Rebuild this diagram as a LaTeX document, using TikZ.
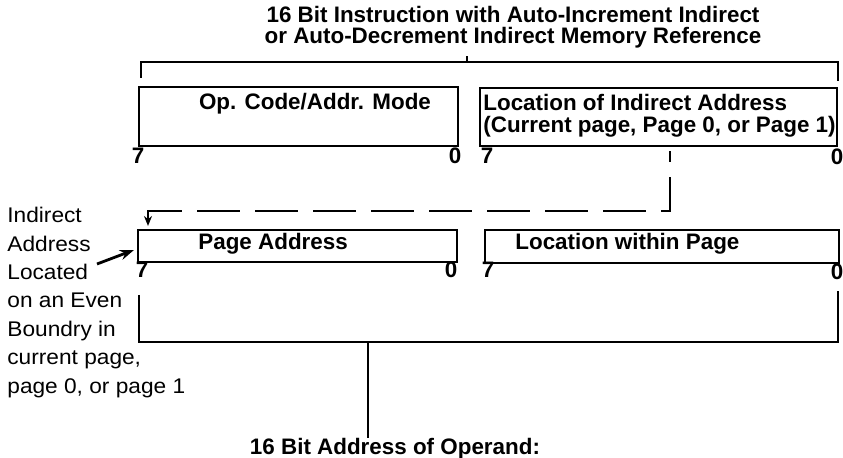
\documentclass[tikz,border=0pt]{standalone}
\usepackage{fontspec}
\setmainfont{Liberation Sans}
\newfontfamily\widefont{Liberation Sans}[FakeStretch=1.07]
\usetikzlibrary{fit,arrows.meta}
\begin{document}
\begin{tikzpicture}[x=0.5pt,y=-0.5pt,
  box/.style={draw, line width=1pt, inner sep=0pt, fit=#1},
  lbl/.style={font=\fontsize{11.2}{13}\selectfont\bfseries, inner sep=0pt, anchor=base},
  lblw/.style={lbl, anchor=base west},
  brk/.style={line width=0.8pt},
  dashline/.style={line width=1pt, dash pattern=on 21.5pt off 7.5pt},
]
\useasboundingbox (0,0) rectangle (843,458);

% title
\node[lbl] (t1) at (513,23) {16 Bit Instruction with Auto-Increment Indirect};
\node[lbl] (t2) at (513,44) {or Auto-Decrement Indirect Memory Reference};

% top bracket
\coordinate (tbL) at (141,78);
\coordinate (tbM) at (467,62);
\coordinate (tbR) at (838,81);
\coordinate (tbT) at (467,56);
\draw[brk] (tbL) |- (tbM) -| (tbR);
\draw[brk] (tbM) -- (tbT);

% first row boxes
\coordinate (a1) at (139,87); \coordinate (a2) at (458,146);
\node[box={(a1)(a2)}] (opbox) {};
\node[lbl] (optxt) at (315,110) {Op. Code/Addr. Mode};

\coordinate (b1) at (480,88); \coordinate (b2) at (837,146);
\node[box={(b1)(b2)}] (locbox) {};
\node[lblw] (loc1) at (483,111) {Location of Indirect Address};
\node[lblw] (loc2) at (483,133) {(Current page, Page 0, or Page 1)};

% bit numbers row 1
\node[lbl] (r1a) at (138,164) {7};
\node[lbl] (r1b) at (455,164) {0};
\node[lbl] (r1c) at (487,164) {7};
\node[lbl] (r1d) at (837,165) {0};

% dashed connector
\coordinate (dS) at (670,151);
\coordinate (dC) at (148,211);
\coordinate (dE) at (148,226);
\draw[dashline, {Stealth[length=5pt,width=4pt]}-] (dE) -- (dC) -| (dS);

% second row boxes
\coordinate (c1) at (138,230); \coordinate (c2) at (457,262);
\node[box={(c1)(c2)}] (pabox) {};
\node[lblw] (patxt) at (198,250) {Page Address};

\coordinate (d1) at (485,230); \coordinate (d2) at (839,263);
\node[box={(d1)(d2)}] (lwbox) {};
\node[lblw] (lwtxt) at (515,250) {Location within Page};

% bit numbers row 2
\node[lbl] (r2a) at (142,278) {7};
\node[lbl] (r2b) at (451,278) {0};
\node[lbl] (r2c) at (488,278) {7};
\node[lbl] (r2d) at (837,280) {0};

% side note
\node[font=\widefont\fontsize{10.6}{14.2}\selectfont, align=left, anchor=north west, inner sep=0pt]
  (note) at (7,207) {Indirect\\Address\\Located\\on an Even\\Boundry in\\current page,\\page 0, or page 1};
\coordinate (aT) at (97,264);
\coordinate (aH) at (134,250);
\draw[line width=1.4pt, -{Stealth[length=7pt,width=5pt]}] (aT) -- (aH);

% bottom bracket
\coordinate (bbL) at (139,295);
\coordinate (bbM) at (368,342);
\coordinate (bbR) at (838,291);
\draw[brk] (bbL) |- (bbM) -| (bbR);

\node[lbl] (res) at (395,455) {16 Bit Address of Operand:};
\draw[brk] (bbM) -- (bbM |- res.north);
\end{tikzpicture}
\end{document}
